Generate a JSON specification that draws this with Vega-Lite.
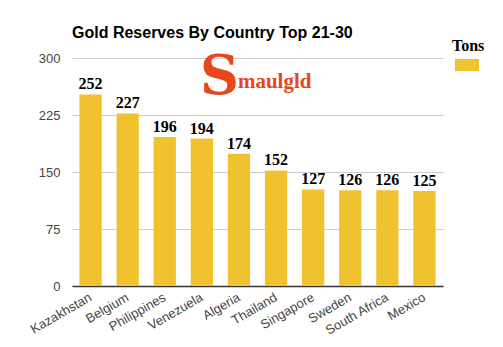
{
  "$schema": "https://vega.github.io/schema/vega-lite/v6.json",
  "width": 371,
  "height": 228,
  "autosize": "none",
  "padding": {"left": 72, "top": 58, "right": 60, "bottom": 61},
  "background": "white",
  "title": {
    "text": "Gold Reserves By Country Top 21-30",
    "anchor": "start",
    "frame": "group",
    "font": "Liberation Sans",
    "fontSize": 16,
    "fontWeight": "bold",
    "color": "#000000",
    "offset": -3
  },
  "config": {"view": {"stroke": null}},
  "datasets": {
    "gold": [
      {"country": "Kazakhstan", "tons": 252, "series": "Tons"},
      {"country": "Belgium", "tons": 227, "series": "Tons"},
      {"country": "Philippines", "tons": 196, "series": "Tons"},
      {"country": "Venezuela", "tons": 194, "series": "Tons"},
      {"country": "Algeria", "tons": 174, "series": "Tons"},
      {"country": "Thailand", "tons": 152, "series": "Tons"},
      {"country": "Singapore", "tons": 127, "series": "Tons"},
      {"country": "Sweden", "tons": 126, "series": "Tons"},
      {"country": "South Africa", "tons": 126, "series": "Tons"},
      {"country": "Mexico", "tons": 125, "series": "Tons"}
    ],
    "logo": [
      {"country": "Algeria", "tons": 260, "big": "S", "rest": "maulgld"}
    ]
  },
  "encoding": {
    "x": {
      "field": "country",
      "type": "nominal",
      "sort": null,
      "scale": {"paddingInner": 0.4, "paddingOuter": 0.2},
      "axis": {
        "title": null,
        "labelAngle": -30,
        "labelAlign": "right",
        "labelBaseline": "middle",
        "labelFont": "Liberation Sans",
        "labelFontSize": 13,
        "labelColor": "#444444",
        "labelPadding": 10,
        "ticks": false,
        "domainColor": "#333333",
        "domainWidth": 1.5,
        "grid": false
      }
    },
    "y": {
      "field": "tons",
      "type": "quantitative",
      "scale": {"domain": [0, 300]},
      "axis": {
        "title": null,
        "values": [0, 75, 150, 225, 300],
        "labelFont": "Liberation Sans",
        "labelFontSize": 13,
        "labelColor": "#444444",
        "labelPadding": 12,
        "ticks": false,
        "domain": false,
        "gridColor": "#cccccc"
      }
    }
  },
  "layer": [
    {
      "data": {"name": "gold"},
      "mark": {"type": "bar"},
      "encoding": {
        "color": {
          "field": "series",
          "type": "nominal",
          "scale": {"range": ["#F0C230"]},
          "legend": {
            "title": "Tons",
            "titleFont": "Liberation Serif",
            "titleFontSize": 16,
            "titleFontWeight": "bold",
            "titleColor": "#000000",
            "labelExpr": "''",
            "orient": "none",
            "legendX": 380,
            "legendY": -20,
            "symbolType": "M-1,-0.5H1V0.5H-1Z",
            "symbolSize": 576,
            "symbolStrokeWidth": 0,
            "symbolOpacity": 1,
            "symbolOffset": 3,
            "titlePadding": -1
          }
        }
      }
    },
    {
      "data": {"name": "gold"},
      "mark": {
        "type": "text",
        "baseline": "alphabetic",
        "dy": -5,
        "font": "Liberation Serif",
        "fontSize": 16,
        "fontWeight": "bold",
        "color": "#000000"
      },
      "encoding": {"text": {"field": "tons", "type": "quantitative"}}
    },
    {
      "data": {"name": "logo"},
      "mark": {
        "type": "text",
        "align": "right",
        "baseline": "alphabetic",
        "dy": 6,
        "dx": 0,
        "font": "DejaVu Serif",
        "fontSize": 54,
        "fontWeight": "bold",
        "color": "#E8461C"
      },
      "encoding": {"text": {"field": "big"}}
    },
    {
      "data": {"name": "logo"},
      "mark": {
        "type": "text",
        "align": "left",
        "baseline": "alphabetic",
        "dx": -1,
        "font": "Liberation Serif",
        "fontSize": 21,
        "fontWeight": "bold",
        "color": "#E8461C"
      },
      "encoding": {"text": {"field": "rest"}}
    }
  ]
}
